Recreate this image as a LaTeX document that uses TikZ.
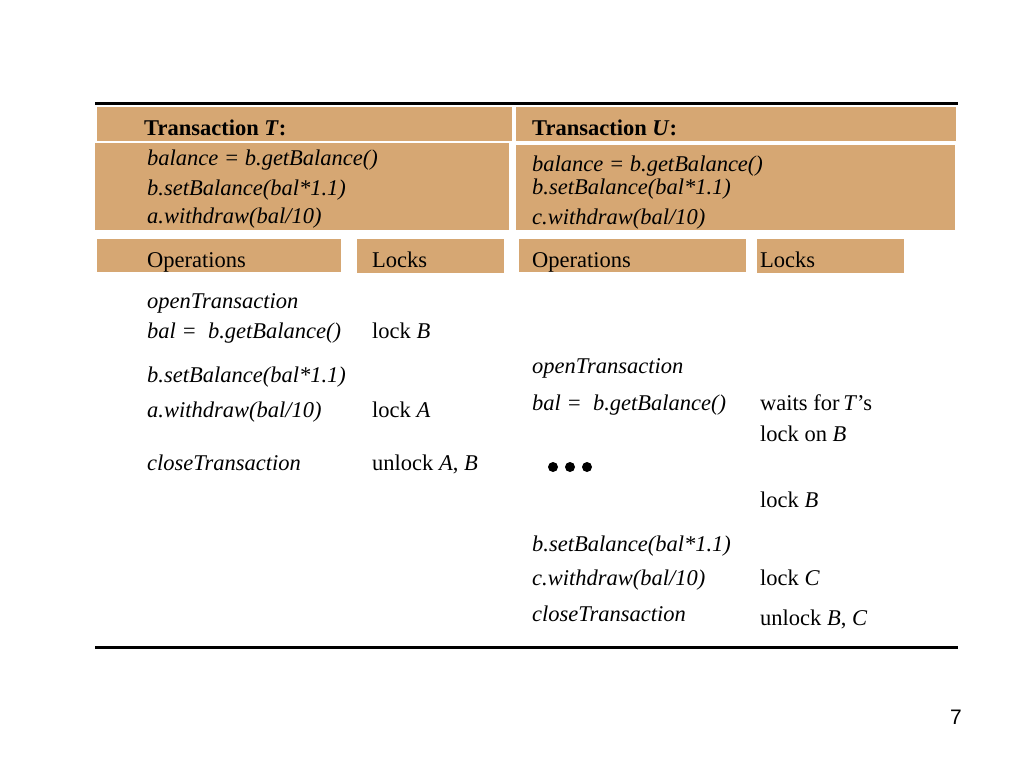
\documentclass[tikz,border=0pt]{standalone}
\usepackage{fontspec}
\setmainfont{Liberation Serif}
\newfontfamily\lapszam{Liberation Sans}
\definecolor{barna}{RGB}{214,167,115}

\begin{document}
\begin{tikzpicture}[x=1pt,y=-1pt,
sav/.style={rectangle,fill=barna,inner sep=0pt,anchor=north west},
szoveg/.style={anchor=base west,inner sep=0pt,font=\fontsize{22.5}{27}\selectfont},
muvelet/.style={szoveg,font=\fontsize{22.5}{27}\selectfont\itshape},
pont/.style={circle,fill=black,inner sep=0pt,minimum size=10pt}
]

\useasboundingbox (0,0) rectangle (1024,768);

\pgfmathsetmacro{\balT}{147}
\pgfmathsetmacro{\jobbT}{372}
\pgfmathsetmacro{\balU}{532}
\pgfmathsetmacro{\jobbU}{760}

\coordinate (felsoB) at (95,103);
\coordinate (felsoJ) at (958,103);
\coordinate (alsoB) at (95,647);
\coordinate (alsoJ) at (958,647);
\draw[line width=3pt] (felsoB)--(felsoJ);
\draw[line width=3pt] (alsoB)--(alsoJ);

\node[sav,minimum width=415,minimum height=34](fejT) at (97,107){};
\node[sav,minimum width=414,minimum height=87](testT) at (95,143){};
\node[sav,minimum width=244,minimum height=33](opT) at (97,239){};
\node[sav,minimum width=147,minimum height=34](zarT) at (357,239){};

\node[sav,minimum width=440,minimum height=34](fejU) at (516,107){};
\node[sav,minimum width=439,minimum height=85](testU) at (516,145){};
\node[sav,minimum width=227,minimum height=33](opU) at (519,239){};
\node[sav,minimum width=147,minimum height=34](zarU) at (757,239){};

\node[szoveg](cimT) at (144,135){\textbf{Transaction \textit{T}:}};
\node[muvelet](kodT1) at (\balT,165){balance = b.getBalance()};
\node[muvelet](kodT2) at (\balT,195){b.setBalance(bal*1.1)};
\node[muvelet](kodT3) at (\balT,223){a.withdraw(bal/10)};

\node[szoveg](cimU) at (\balU,135){\textbf{Transaction \textit{U}:}};
\node[muvelet](kodU1) at (\balU,171){balance = b.getBalance()};
\node[muvelet](kodU2) at (\balU,194){b.setBalance(bal*1.1)};
\node[muvelet](kodU3) at (\balU,224){c.withdraw(bal/10)};

\node[szoveg](muvT) at (\balT,267){Operations};
\node[szoveg](lockT) at (\jobbT,267){Locks};
\node[szoveg](muvU) at (\balU,267){Operations};
\node[szoveg](lockU) at (\jobbU,267){Locks};

\node[muvelet](t1) at (\balT,308){openTransaction};
\node[muvelet](t2) at (\balT,338){bal = \ b.getBalance()};
\node[szoveg](z2) at (\jobbT,338){lock \textit{B}};
\node[muvelet](t3) at (\balT,382){b.setBalance(bal*1.1)};
\node[muvelet](t4) at (\balT,417){a.withdraw(bal/10)};
\node[szoveg](z4) at (\jobbT,417){lock \textit{A}};
\node[muvelet](t5) at (\balT,470){closeTransaction};
\node[szoveg](z5) at (\jobbT,470){unlock \textit{A}, \textit{B}};

\node[muvelet](u1) at (\balU,373){openTransaction};
\node[muvelet](u2) at (\balU,410){bal = \ b.getBalance()};
\node[szoveg](v2) at (\jobbU,410){waits for\,\textit{T}’s};
\node[szoveg](v2b) at (\jobbU,441){lock on \textit{B}};
\node[pont](p1) at (553,467){};
\node[pont](p2) at (570,467){};
\node[pont](p3) at (587,467){};
\node[szoveg](v3) at (\jobbU,507){lock \textit{B}};
\node[muvelet](u4) at (\balU,551){b.setBalance(bal*1.1)};
\node[muvelet](u5) at (\balU,585){c.withdraw(bal/10)};
\node[szoveg](v5) at (\jobbU,585){lock \textit{C}};
\node[muvelet](u6) at (\balU,621){closeTransaction};
\node[szoveg](v6) at (\jobbU,625){unlock \textit{B}, \textit{C}};

\node[anchor=base east,inner sep=0pt,font=\lapszam\fontsize{21}{25}\selectfont](oldal) at (962,724){7};

\end{tikzpicture}
\end{document}
